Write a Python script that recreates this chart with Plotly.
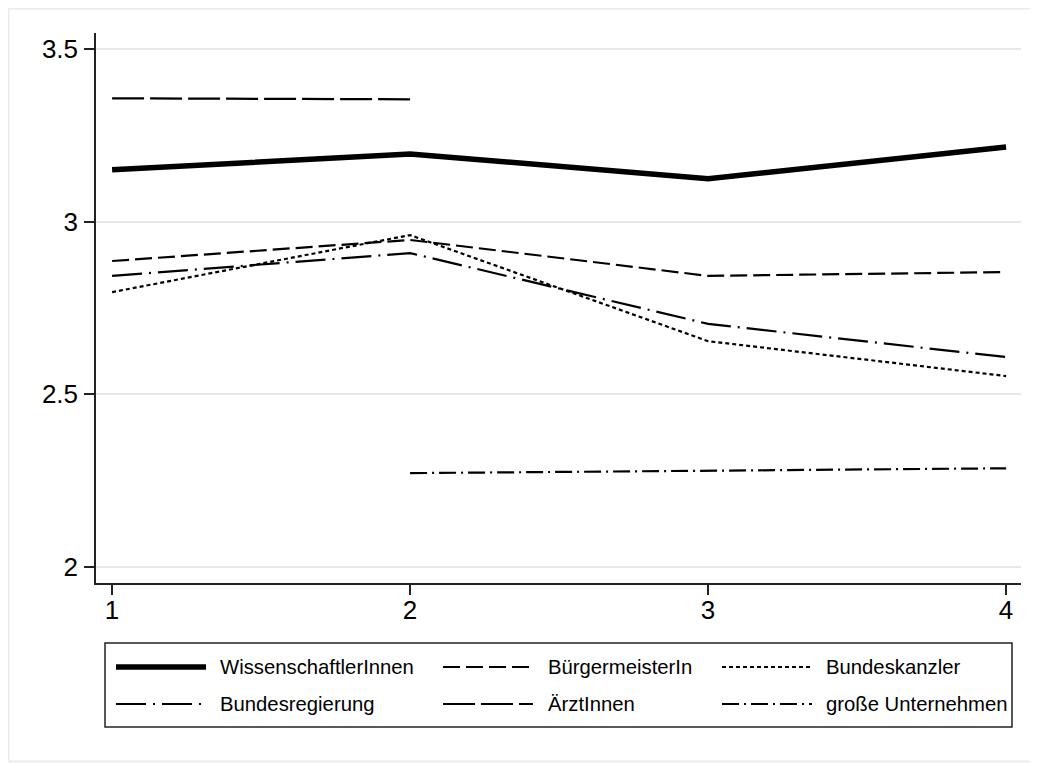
import plotly.graph_objects as go

# ---- data ----
waves = [1, 2, 3, 4]
series_names = ["WissenschaftlerInnen", "BürgermeisterIn", "Bundeskanzler",
                "Bundesregierung", "ÄrztInnen", "große Unternehmen"]
wissenschaftler = [3.150, 3.196, 3.124, 3.216]
buergermeister = [2.886, 2.947, 2.843, 2.854]
bundeskanzler = [2.796, 2.961, 2.654, 2.553]
bundesregierung = [2.843, 2.909, 2.704, 2.608]
aerzte = [3.357, 3.354, None, None]
unternehmen = [None, 2.272, 2.280, 2.286]
y_ticks = [2, 2.5, 3, 3.5]
y_tick_labels = ["2", "2.5", "3", "3.5"]
x_ticks = [1, 2, 3, 4]

values = [wissenschaftler, buergermeister, bundeskanzler, bundesregierung, aerzte, unternehmen]
styles = [
    dict(width=5.5, dash="solid"),
    dict(width=2.2, dash="17px,6px"),
    dict(width=2.2, dash="4px,3px"),
    dict(width=2.2, dash="30px,7px,2px,7px"),
    dict(width=2.2, dash="32px,6px"),
    dict(width=2.2, dash="17px,5px,2px,5px"),
]

# page offset (browser body margin) compensation
OFF = 8
W, H = 1038 - OFF, 763 - OFF
# plot area in page pixels
L, R, T, B = 96, 1021, 33, 583

fig = go.Figure()
for name, vals, st in zip(series_names, values, styles):
    fig.add_trace(go.Scatter(x=waves, y=vals, mode="lines", name=name,
                             line=dict(color="black", width=st["width"], dash=st["dash"]),
                             connectgaps=False, showlegend=False))

def px_x(px):
    return (px - L) / (R - L)

def px_y(py):
    return (B - py) / (B - T)

shapes = []
annotations = []
# outer frame (left, top, bottom edges)
frame_style = dict(color="#ebebeb", width=2)
for (xa, ya, xb, yb) in [(8.5, 8.5, 1040, 8.5), (8.5, 8.5, 8.5, 761.5), (8.5, 761.5, 1040, 761.5)]:
    shapes.append(dict(type="line", xref="paper", yref="paper",
                       x0=px_x(xa), y0=px_y(ya), x1=px_x(xb), y1=px_y(yb),
                       line=frame_style, layer="below"))
# legend box
shapes.append(dict(type="rect", xref="paper", yref="paper",
                   x0=px_x(105), x1=px_x(1012), y0=px_y(643), y1=px_y(727),
                   line=dict(color="#222222", width=1.5), fillcolor="white"))
col_line_x = [(116, 206), (443, 533), (722, 812)]
col_text_x = [218, 546, 824]
row_y = [667, 704]
for i, (name, st) in enumerate(zip(series_names, styles)):
    r, c = divmod(i, 3)
    x0, x1 = col_line_x[c]
    shapes.append(dict(type="line", xref="paper", yref="paper",
                       x0=px_x(x0), x1=px_x(x1), y0=px_y(row_y[r]), y1=px_y(row_y[r]),
                       line=dict(color="black", width=st["width"], dash=st["dash"])))
    annotations.append(dict(xref="paper", yref="paper", x=px_x(col_text_x[c]), y=px_y(row_y[r]),
                            text=name, showarrow=False, xanchor="left", yanchor="middle",
                            font=dict(family="Liberation Sans, Arial, sans-serif", size=20.3, color="black")))

fig.update_layout(
    width=W, height=H,
    margin=dict(l=L - OFF, r=1038 - R, t=T - OFF, b=763 - B, pad=0),
    paper_bgcolor="white", plot_bgcolor="white",
    font=dict(family="Liberation Sans, Arial, sans-serif", color="black"),
    shapes=shapes, annotations=annotations,
    xaxis=dict(range=[0.946, 4.05], tickvals=x_ticks, ticktext=[str(v) for v in x_ticks],
               showgrid=False, zeroline=False, showline=True, linecolor="#222222", linewidth=1.5,
               ticks="outside", ticklen=10, tickwidth=1.5, tickcolor="#222222",
               tickfont=dict(size=26), ticklabelstandoff=-7, fixedrange=True),
    yaxis=dict(range=[1.954, 3.546], tickvals=y_ticks, ticktext=y_tick_labels,
               showgrid=True, gridcolor="#e8e8e8", gridwidth=1.5, zeroline=False,
               showline=True, linecolor="#222222", linewidth=1.5,
               ticks="outside", ticklen=10, tickwidth=1.5, tickcolor="#222222",
               tickfont=dict(size=26), ticklabelstandoff=1, fixedrange=True),
    showlegend=False,
)

fig.write_html("out.html", config={"displayModeBar": False})
